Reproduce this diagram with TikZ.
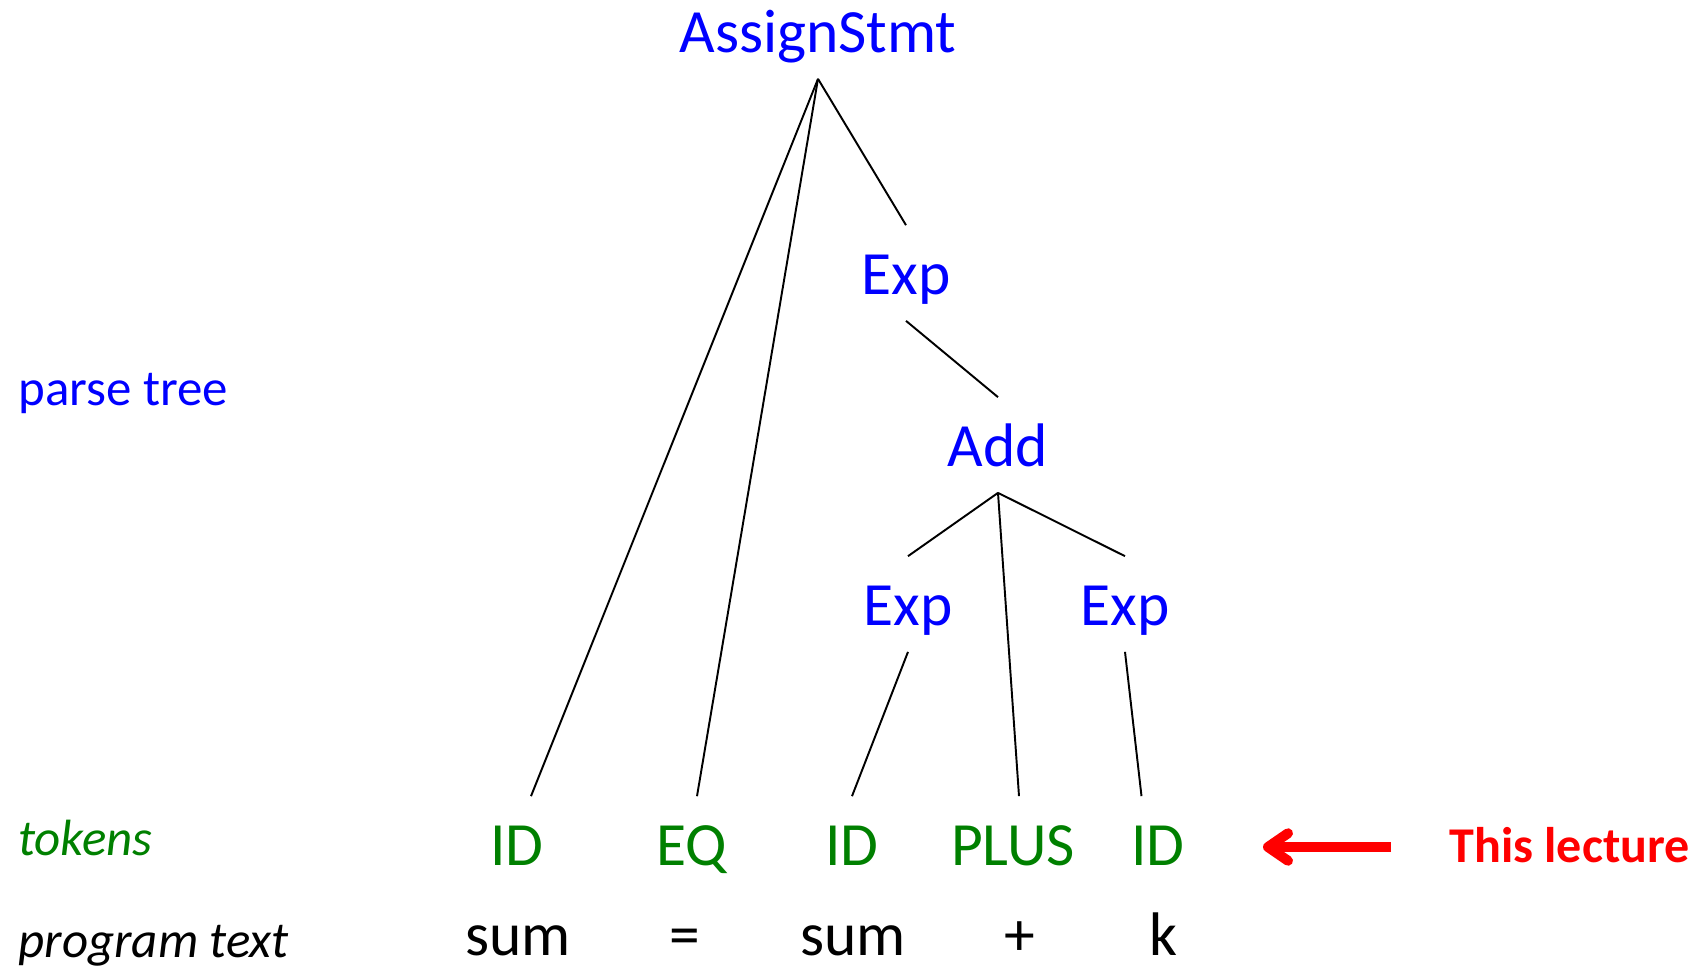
\documentclass[tikz,border=0pt]{standalone}
\usepackage{fontspec}
\setmainfont{Carlito}
\usetikzlibrary{arrows.meta}
\definecolor{tokgreen}{RGB}{0,128,0}
\tikzset{
  tree/.style={anchor=base, inner sep=0pt, text height=1.37cm, text depth=0.53cm, font=\fontsize{35}{35}\selectfont},
  nt/.style={tree, text=blue},
  tok/.style={tree, text=tokgreen},
  src/.style={anchor=base, inner sep=0pt, font=\fontsize{35}{35}\selectfont},
  lbl/.style={anchor=base west, inner sep=0pt, font=\fontsize{29}{29}\selectfont},
  edge/.style={draw, line width=1.1pt, -}
}
\begin{document}
\begin{tikzpicture}[x=0.02cm, y=-0.02cm]
\useasboundingbox (0,0) rectangle (1700,970);

\node[nt] (root) at (818,52) {AssignStmt};
\node[nt] (exp) at (906,294) {Exp};
\node[nt] (add) at (998,466) {Add};
\node[nt] (expl) at (908,625) {Exp};
\node[nt] (expr) at (1125,625) {Exp};

\node[tok] (id1) at (517,865) {ID};
\node[tok] (eq) at (692,865) {EQ};
\node[tok] (id2) at (852,865) {ID};
\node[tok] (plus) at (1013,865) {PLUS};
\node[tok] (id3) at (1158,865) {ID};

\node[src] (s1) at (518,955) {sum};
\node[src] (s2) at (685,955) {=};
\node[src] (s3) at (853,955) {sum};
\node[src] (s4) at (1020,955) {+};
\node[src] (s5) at (1163,955) {k};

\node[lbl, text=blue] (lparse) at (18,405) {parse tree};
\node[lbl, text=tokgreen] (ltok) at (18,855) {\itshape tokens};
\node[lbl] (lprog) at (18,957) {\itshape program text};
\node[anchor=base west, inner sep=0pt, text=red, font=\fontsize{28.5}{28.5}\selectfont\bfseries] (lecture) at (1449,862) {This lecture};

\path[edge] (root.south) -- ([xshift=0.28cm]id1.north);
\path[edge] (root.south) -- ([xshift=0.1cm]eq.north);
\path[edge] (root.south) -- (exp.north);
\path[edge] (exp.south) -- (add.north);
\path[edge] (add.south) -- (expl.north);
\path[edge] (add.south) -- ([xshift=0.12cm]plus.north);
\path[edge] (add.south) -- (expr.north);
\path[edge] (expl.south) -- (id2.north);
\path[edge] (expr.south) -- ([xshift=-0.33cm]id3.north);

\coordinate (tail) at (1391,847);
\coordinate (tip) at (1263,847);
\draw[red, line width=0.2cm, -{Straight Barb[round, length=0.4cm, width=0.55cm]}] (tail) -- (tip);
\end{tikzpicture}
\end{document}
